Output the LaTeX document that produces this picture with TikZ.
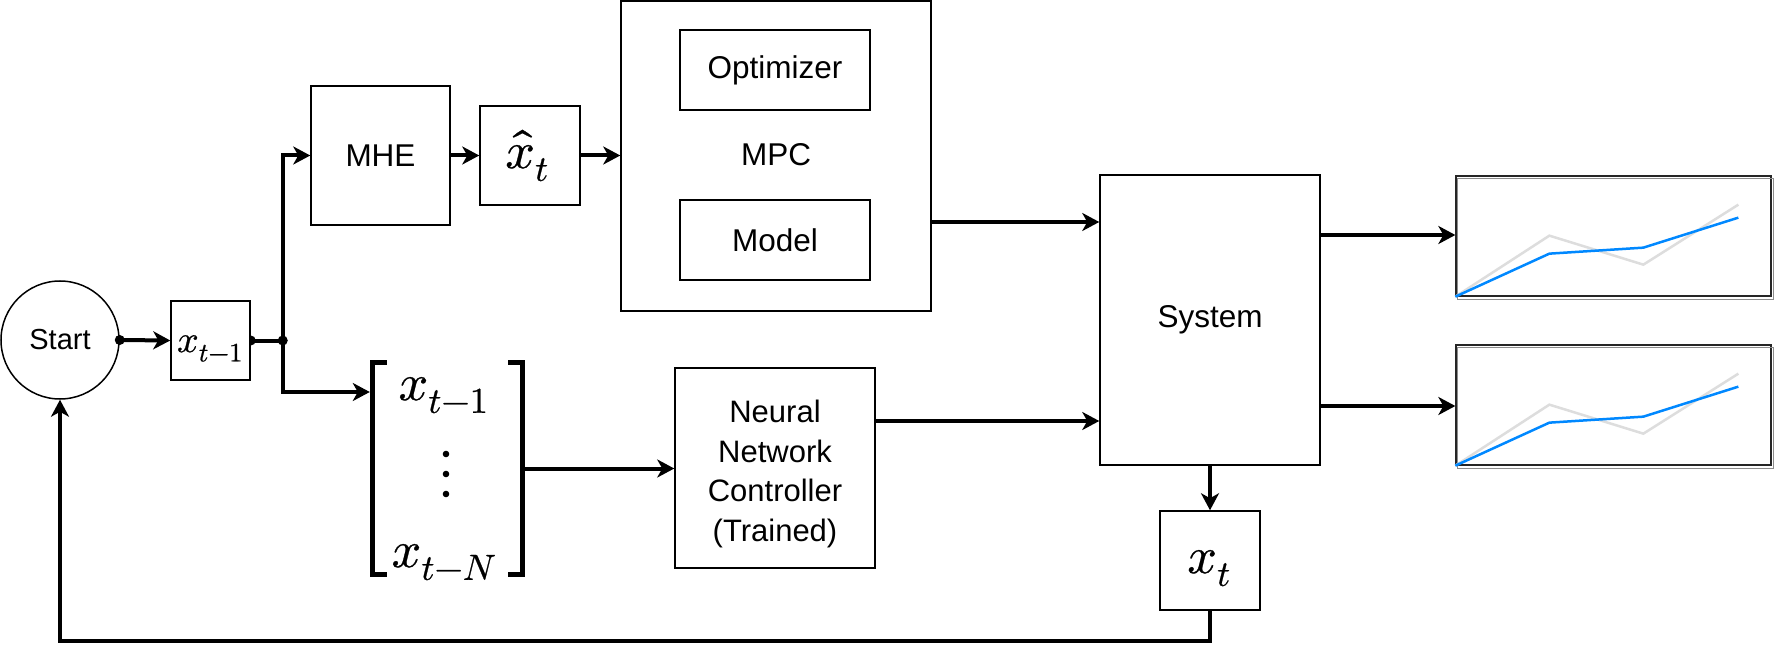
\RequirePackage{fix-cm}
\documentclass[tikz,border=0pt]{standalone}
\usepackage{unicode-math}
\setmathfont{Latin Modern Math}[FakeBold=0.6]
\newfontfamily\arialf{Liberation Sans}
\usetikzlibrary{arrows.meta,backgrounds}
\definecolor{plotblue}{RGB}{0,136,255}
\definecolor{plotgray}{RGB}{221,221,221}
\tikzset{
  box/.style={draw, line width=1.5pt, fill=white, inner sep=0pt, align=center,
    font=\arialf\fontsize{31.5}{39.7}\selectfont},
  line/.style={line width=4pt},
  wire/.style={line width=4pt, -{Stealth[length=17pt,width=18pt,inset=5pt]}},
  brk/.style={line width=5pt},
  plotbox/.style={draw=black!85, line width=1.3pt, fill=white, inner sep=0pt,
    minimum width=315pt, minimum height=120pt},
  mathsm/.style={inner sep=0pt, anchor=base, font=\fontsize{38}{42}\selectfont},
  mathbig/.style={inner sep=0pt, anchor=base, font=\fontsize{52}{56}\selectfont},
}
\begin{document}
\begin{tikzpicture}[x=1pt,y=-1pt]
\useasboundingbox (0,0) rectangle (1774,652);
% nodes
\node[box, circle, minimum size=118pt, font=\arialf\fontsize{29}{35}\selectfont] (start) at (60,340) {Start};
\node[box, minimum width=79pt, minimum height=79pt] (xprev) at (210.5,340.5) {};
\node[mathsm] (xprevl) at (210,352) {$x_{t-1}$};
\node[box, minimum width=139pt, minimum height=139pt] (mhe) at (380.5,155.5) {MHE};
\node[box, minimum width=100pt, minimum height=99pt] (xhat) at (530,155.5) {};
\node[mathbig] (xhatl) at (527,168) {$\hat{x}_t$};
\node[box, minimum width=310pt, minimum height=310pt] (mpc) at (776,156) {};
\node[font=\arialf\fontsize{31.5}{38}\selectfont] (mpcl) at (776,155) {MPC};
\node[box, minimum width=190pt, minimum height=80pt] (opt) at (775,70) {Optimizer};
\node[box, minimum width=190pt, minimum height=80pt] (model) at (775,240) {Model};
\node[box, minimum width=200pt, minimum height=200pt] (nn) at (775,468) {};
\node[align=center, inner sep=0pt, font=\arialf\fontsize{31}{39.4}\selectfont] (nnl) at (775,474) {Neural\\Network\\Controller\\(Trained)};
\node[box, minimum width=220pt, minimum height=290pt] (sys) at (1210,320) {System};
\node[box, minimum width=100pt, minimum height=99pt] (xt) at (1210,560.5) {};
\node[mathbig] (xtl) at (1209,573) {$x_t$};
% vector
\node[inner sep=0pt, minimum width=155pt, minimum height=217pt] (vec) at (447.5,468.5) {};
\node[mathbig] (v1t) at (443.5,400) {$x_{t-1}$};
\coordinate (v2t) at (446,474);
\node[mathbig] (v3t) at (444,567) {$x_{t-N}$};
\fill (v2t) ++(0,-20) circle (3.3);
\fill (v2t) circle (3.3);
\fill (v2t) ++(0,20) circle (3.3);
\draw[brk] ([xshift=17pt,yshift=-2.5pt]vec.north west) -- ([xshift=2.5pt,yshift=-2.5pt]vec.north west) -- ([xshift=2.5pt,yshift=2.5pt]vec.south west) -- ([xshift=17pt,yshift=2.5pt]vec.south west);
\draw[brk] ([xshift=-17pt,yshift=-2.5pt]vec.north east) -- ([xshift=-2.5pt,yshift=-2.5pt]vec.north east) -- ([xshift=-2.5pt,yshift=2.5pt]vec.south east) -- ([xshift=-17pt,yshift=2.5pt]vec.south east);
% plots
\node[plotbox] (p1) at (1613.5,236) {};
\node[plotbox] (p2) at (1613.5,405) {};
\foreach \p in {p1,p2}{
  \draw[black!45, line width=1.5pt] ([xshift=2pt,yshift=-3pt]\p.north west) rectangle ([xshift=2pt,yshift=-3pt]\p.south east);
  \begin{scope}[shift={(\p.south west)}]
    \draw[plotgray, line width=2.5pt] (0,0) -- (94,-61) -- (188,-32) -- (283,-92);
    \draw[plotblue, line width=2.5pt] (0,0) -- (94,-43) -- (188,-49) -- (283,-79);
  \end{scope}
}
% coordinates
\coordinate (jn) at ([xshift=32pt]xprev.east);
\coordinate (vin) at ([yshift=76.5pt]vec.west);
\coordinate (m1) at ([yshift=-66pt]mpc.east);
\coordinate (n1) at ([yshift=47pt]nn.east);
\coordinate (s1) at ([yshift=85pt]sys.east);
\coordinate (s2) at ([yshift=-86pt]sys.east);
% connectors
\begin{scope}[on background layer]
\draw[wire] (start.east) -- (xprev.west);
\fill (xprev.east) circle (5);
\draw[line] (xprev.east) -- (jn);
\draw[wire] (jn) |- (mhe.west);
\draw[wire] (jn) |- (vin);
\draw[wire] (mhe.east) -- (xhat.west);
\draw[wire] (xhat.east) -- (xhat.east -| mpc.west);
\draw[wire] (m1) -- (m1 -| sys.west);
\draw[wire] (vec.east) -- (vec.east -| nn.west);
\draw[wire] (n1) -- (n1 -| sys.west);
\draw[wire] (s1) -- (s1 -| p1.west);
\draw[wire] (s2) -- (s2 -| p2.west);
\draw[wire] (sys.south -| xt.north) -- (xt.north);
\draw[wire] (xt.south) -- ++(0,30) -| (start.south);
\end{scope}
\fill (start.east) circle (5);
\fill (jn) circle (5);
\end{tikzpicture}
\end{document}
